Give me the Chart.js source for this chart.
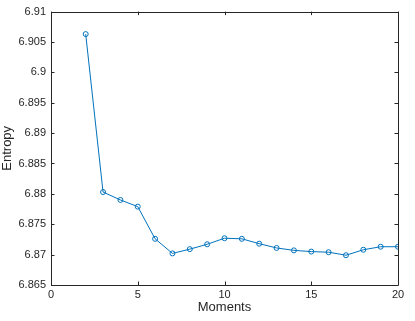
<!DOCTYPE html>
<html>
<head>
<meta charset="utf-8">
<script src="https://cdn.jsdelivr.net/npm/chart.js@4/dist/chart.umd.min.js"></script>
<style>
  html, body { margin: 0; padding: 0; background: #fff; }
  #wrap { width: 415px; height: 321px; }
</style>
</head>
<body>
<div id="wrap"><canvas id="canva"></canvas></div>
<script>
const momentos = [2, 3, 4, 5, 6, 7, 8, 9, 10, 11, 12, 13, 14, 15, 16, 17, 18, 19, 20];
const entropia = [6.9063, 6.8803, 6.8790, 6.8779, 6.8726, 6.8702, 6.8709, 6.8717, 6.8727, 6.8726,
  6.8718, 6.8711, 6.8707, 6.8705, 6.8704, 6.8699, 6.8708, 6.8713, 6.8713];
const ticksX = [0, 5, 10, 15, 20];
const ticksY = [6.865, 6.87, 6.875, 6.88, 6.885, 6.89, 6.895, 6.9, 6.905, 6.91];

const colorLinea = "#0072BD";
const colorEjes = "#262626";
const fuente = "'Liberation Sans', Arial, sans-serif";

// caja estilo matlab con marcas hacia dentro
const cajaMatlab = {
  id: "cajaMatlab",
  afterDraw(chart) {
    const { ctx, chartArea: a, scales } = chart;
    ctx.save();
    ctx.strokeStyle = colorEjes;
    ctx.lineWidth = 1;
    ctx.beginPath();
    ctx.rect(Math.round(a.left) + 0.5, Math.round(a.top) + 0.5, Math.round(a.right - a.left), Math.round(a.bottom - a.top));
    const largo = 3.5;
    ticksX.forEach((v) => {
      const px = Math.round(scales.x.getPixelForValue(v)) + 0.5;
      ctx.moveTo(px, a.bottom);
      ctx.lineTo(px, a.bottom - largo);
      ctx.moveTo(px, a.top);
      ctx.lineTo(px, a.top + largo);
    });
    ticksY.forEach((v) => {
      const py = Math.round(scales.y.getPixelForValue(v)) + 0.5;
      ctx.moveTo(a.left, py);
      ctx.lineTo(a.left + largo, py);
      ctx.moveTo(a.right, py);
      ctx.lineTo(a.right - largo, py);
    });
    ctx.stroke();
    ctx.restore();
  }
};

new Chart(document.getElementById("canva").getContext("2d"), {
  type: "scatter",
  data: {
    datasets: [{
      data: momentos.map((m, i) => ({ x: m, y: entropia[i] })),
      showLine: true,
      borderColor: colorLinea,
      borderWidth: 1,
      pointRadius: 2.5,
      pointBorderWidth: 1,
      pointBackgroundColor: "rgba(0,0,0,0)",
      pointBorderColor: colorLinea,
      tension: 0
    }]
  },
  options: {
    responsive: true,
    maintainAspectRatio: false,
    animation: false,
    layout: { padding: { top: 10, right: 17, left: 0, bottom: 0 } },
    plugins: { legend: { display: false }, tooltip: { enabled: false } },
    scales: {
      x: {
        type: "linear",
        min: 0, max: 20,
        afterBuildTicks: (s) => { s.ticks = ticksX.map((v) => ({ value: v })); },
        afterFit: (s) => { s.height = 36; },
        grid: { display: false, drawTicks: false },
        border: { display: false },
        ticks: { color: colorEjes, font: { family: fuente, size: 11 }, padding: 3, maxRotation: 0 },
        title: { display: true, text: "Moments", color: colorEjes, font: { family: fuente, size: 13 }, padding: { top: 0, bottom: 6 } }
      },
      y: {
        type: "linear",
        min: 6.865, max: 6.91,
        afterBuildTicks: (s) => { s.ticks = ticksY.map((v) => ({ value: v })); },
        afterFit: (s) => { s.width = 51; },
        grid: { display: false, drawTicks: false },
        border: { display: false },
        ticks: {
          color: colorEjes, font: { family: fuente, size: 11 }, padding: 5,
          callback: (v) => String(parseFloat(Number(v).toFixed(3)))
        },
        title: { display: true, text: "Entropy", color: colorEjes, font: { family: fuente, size: 13 }, padding: { top: 0, bottom: 0 } }
      }
    }
  },
  plugins: [cajaMatlab]
});
</script>
</body>
</html>
